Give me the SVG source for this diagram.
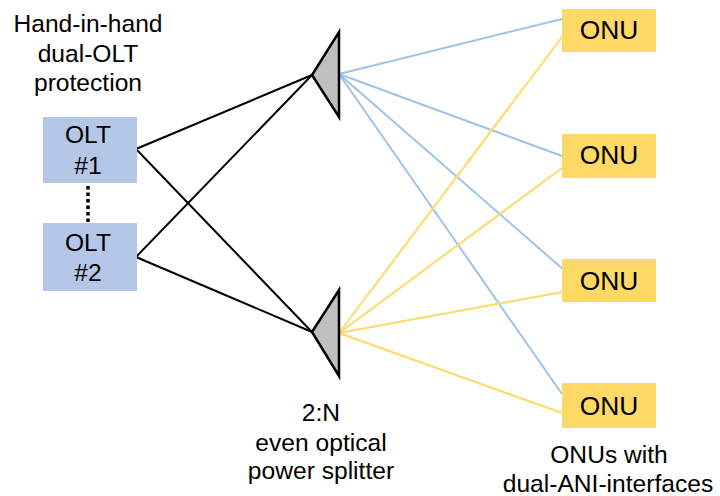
<svg xmlns="http://www.w3.org/2000/svg" width="720" height="496" viewBox="0 0 720 496">
  <style>
    text { font-family: "Liberation Sans", Arial, sans-serif; fill: #000; text-anchor: middle; }
    .lbl { font-size: 24.6px; }
    .olt rect { fill: #B4C7E7; }
    .olt text { font-size: 24.6px; }
    .onu rect { fill: #FFD966; }
    .onu text { font-size: 26.4px; }
    .splitter polygon { fill: #BFBFBF; stroke: #000; stroke-width: 2.5; stroke-linejoin: miter; }
    .trunk { stroke: #000; stroke-width: 2; fill: none; }
    .blue { stroke: #9DC3E6; stroke-width: 2; fill: none; }
    .yellow { stroke: #FFD966; stroke-width: 2; fill: none; }
    .dots { stroke: #000; stroke-width: 3.5; stroke-dasharray: 3.5 3; }
  </style>

  <!-- captions -->
  <g id="caption-olt" class="lbl">
    <text x="88" y="32">Hand-in-hand</text>
    <text x="88" y="62">dual-OLT</text>
    <text x="88" y="91">protection</text>
  </g>
  <g id="caption-splitter" class="lbl">
    <text x="321" y="421">2:N</text>
    <text x="321" y="451">even optical</text>
    <text x="321" y="479">power splitter</text>
  </g>
  <g id="caption-onu" class="lbl">
    <text x="609" y="463">ONUs with</text>
    <text x="608" y="492">dual-ANI-interfaces</text>
  </g>

  <!-- connectors -->
  <g id="connectors">
    <line class="trunk" x1="136" y1="149" x2="312" y2="75"/>
    <line class="trunk" x1="136" y1="149" x2="312" y2="332"/>
    <line class="trunk" x1="136" y1="257" x2="312" y2="75"/>
    <line class="trunk" x1="136" y1="257" x2="312" y2="332"/>
    <line class="dots" x1="88" y1="186" x2="88" y2="222"/>

    <line class="blue" x1="339" y1="74" x2="562" y2="19"/>
    <line class="blue" x1="339" y1="74" x2="562" y2="156"/>
    <line class="blue" x1="339" y1="74" x2="564" y2="270"/>
    <line class="blue" x1="339" y1="74" x2="562" y2="394"/>

    <line class="yellow" x1="339" y1="333" x2="562" y2="37"/>
    <line class="yellow" x1="339" y1="333" x2="562" y2="168"/>
    <line class="yellow" x1="339" y1="333" x2="562" y2="292"/>
    <line class="yellow" x1="339" y1="333" x2="562" y2="413"/>
  </g>

  <!-- OLTs -->
  <g id="olt-1" class="olt">
    <rect x="43" y="117" width="94" height="66"/>
    <text x="88" y="143">OLT</text>
    <text x="88" y="174">#1</text>
  </g>
  <g id="olt-2" class="olt">
    <rect x="43" y="223" width="94" height="68"/>
    <text x="88" y="251">OLT</text>
    <text x="88" y="281">#2</text>
  </g>

  <!-- splitters -->
  <g id="splitter-1" class="splitter">
    <polygon points="312,75 339,32 339,117"/>
  </g>
  <g id="splitter-2" class="splitter">
    <polygon points="312,332 339,290 339,376"/>
  </g>

  <!-- ONUs -->
  <g id="onu-1" class="onu">
    <rect x="562" y="9" width="94" height="43"/>
    <text x="609" y="39">ONU</text>
  </g>
  <g id="onu-2" class="onu">
    <rect x="562" y="134" width="94" height="44"/>
    <text x="609" y="164">ONU</text>
  </g>
  <g id="onu-3" class="onu">
    <rect x="562" y="259" width="94" height="43"/>
    <text x="609" y="290">ONU</text>
  </g>
  <g id="onu-4" class="onu">
    <rect x="562" y="383" width="94" height="45"/>
    <text x="609" y="415">ONU</text>
  </g>
</svg>
